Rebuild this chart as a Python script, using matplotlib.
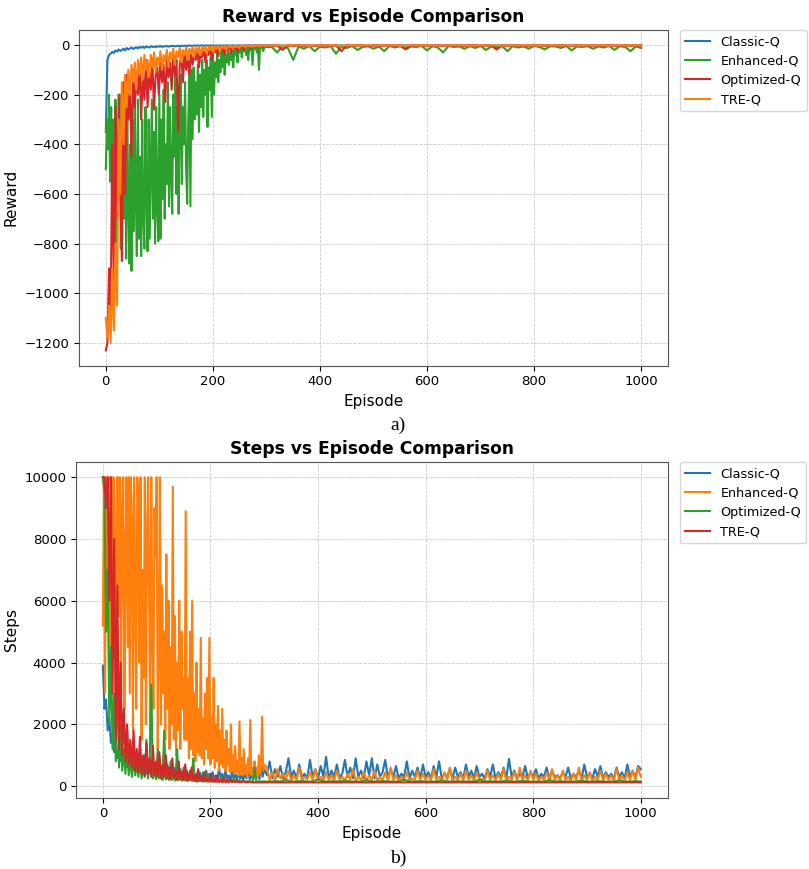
import numpy as np
import matplotlib
matplotlib.use('Agg')
import matplotlib.pyplot as plt

# episode grids: sampled more densely where the curves are noisiest
ep_early = np.arange(0, 301, 3)        # 101 points
ep_late = np.arange(310, 1001, 10)     # 70 points
ep_early_fine = np.arange(0, 301, 2)   # 151 points
ep_late_fine = np.arange(305, 1001, 5) # 140 points

#===============================================================================
# Reward vs Episode
reward_classic = [
    -350, -60, -40, -35, -28, -32, -22, -26, -18, -24,
    -20, -15, -22, -12, -18, -14, -10, -16, -12, -9,
    -14, -8, -11, -7, -12, -6, -9, -10, -5, -8,
    -6, -9, -5, -7, -4, -8, -5, -6, -4, -7,
    -4, -5, -3, -6, -4, -3, -5, -3, -4, -3,
    -3, -4, -2, -3, -4, -2, -3, -2, -3, -2,
    -2, -3, -2, -2, -3, -2, -2, -2, -3, -2,
    -2, -2, -3, -2, -2, -2, -2, -3, -2, -2,
    -2, -2, -2, -2, -3, -2, -2, -2, -2, -2,
    -2, -2, -2, -2, -2, -2, -2, -2, -2, -2,
    -2,
    -2, -2, -3, -2, -2, -2, -2, -3, -2, -2,
    -2, -3, -2, -2, -2, -2, -2, -2, -3, -2,
    -2, -2, -2, -3, -2, -2, -2, -2, -2, -2,
    -3, -2, -2, -2, -2, -2, -3, -2, -2, -2,
    -2, -2, -2, -2, -3, -2, -2, -2, -2, -2,
    -2, -3, -2, -2, -2, -2, -2, -2, -2, -3,
    -2, -2, -2, -2, -2, -3, -2, -2, -2, -2,
]
reward_enhanced = [
    -500, -300, -420, -200, -550, -250, -700, -300, -780, -220,
    -850, -350, -600, -200, -820, -450, -250, -700, -300, -860,
    -250, -650, -880, -400, -910, -300, -750, -200, -600, -850,
    -220, -780, -450, -850, -300, -700, -820, -250, -600, -830,
    -300, -780, -500, -220, -700, -350, -800, -250, -650, -790,
    -200, -780, -300, -620, -180, -700, -400, -560, -150, -650,
    -250, -520, -680, -200, -450, -120, -600, -250, -680, -300,
    -120, -560, -250, -400, -150, -500, -640, -300, -120, -650,
    -100, -380, -90, -300, -150, -280, -80, -350, -120, -250,
    -60, -290, -100, -200, -60, -330, -90, -180, -50, -290,
    -40, -200, -70, -130, -30, -150, -60, -110, -30, -90,
    -20, -120, -40, -70, -15, -80, -30, -60, -10, -90,
    -20, -40, -8, -70, -15, -30, -5, -50, -10, -25,
    -8, -40, -5, -60, -10, -20, -5, -80, -8, -15,
    -5, -30, -6, -100, -8, -12, -4, -25, -6, -10,
    -8,
    -8, -30, -5, -12, -60, -6, -15, -4, -25, -7,
    -10, -5, -35, -6, -12, -4, -20, -8, -5, -15,
    -6, -25, -4, -10, -5, -18, -6, -8, -4, -22,
    -5, -10, -30, -4, -8, -6, -15, -5, -12, -4,
    -20, -6, -8, -4, -25, -5, -10, -6, -15, -4,
    -8, -18, -5, -6, -12, -4, -22, -6, -8, -5,
    -15, -6, -10, -4, -20, -5, -8, -25, -6, -12,
]
reward_optimized = [
    -1230, -1200, -900, -1100, -400, -950, -250, -700, -200, -550,
    -870, -150, -600, -120, -300, -180, -450, -100, -250, -130,
    -200, -80, -300, -120, -220, -60, -250, -100, -180, -70,
    -260, -120, -90, -200, -60, -150, -80, -230, -50, -130,
    -70, -180, -40, -120, -60, -350, -80, -40, -150, -30,
    -100, -50, -120, -25, -80, -40, -60, -20, -90, -30,
    -50, -15, -70, -20, -40, -10, -60, -15, -30, -8,
    -45, -10, -25, -5, -40, -8, -20, -5, -30, -5,
    -15, -3, -25, -4, -10, -3, -20, -3, -8, -2,
    -15, -3, -5, -2, -10, -2, -4, -2, -6, -2,
    -3,
    -3, -2, -20, -2, -3, -2, -4, -2, -3, -2,
    -2, -3, -2, -25, -2, -3, -2, -2, -4, -2,
    -3, -2, -2, -3, -2, -15, -2, -3, -2, -2,
    -2, -3, -2, -2, -4, -2, -3, -2, -2, -3,
    -2, -2, -18, -2, -3, -2, -2, -4, -2, -2,
    -3, -2, -2, -3, -2, -2, -4, -2, -3, -2,
    -2, -3, -2, -2, -3, -2, -2, -3, -2, -2,
]
reward_tre = [
    -1100, -1180, -1050, -1200, -900, -1150, -800, -1050, -300, -600,
    -150, -400, -120, -250, -100, -200, -80, -150, -70, -180,
    -60, -120, -50, -140, -40, -100, -60, -130, -40, -90,
    -30, -110, -50, -80, -25, -100, -40, -70, -20, -90,
    -30, -60, -15, -80, -25, -50, -12, -70, -20, -40,
    -10, -60, -15, -35, -8, -50, -12, -30, -6, -40,
    -10, -25, -5, -35, -8, -20, -4, -30, -6, -15,
    -3, -25, -5, -12, -3, -20, -4, -10, -2, -15,
    -3, -8, -2, -12, -2, -6, -2, -10, -2, -5,
    -2, -8, -2, -4, -2, -6, -2, -3, -2, -4,
    -2,
    -2, -1, -3, -2, -1, -2, -2, -3, -1, -2,
    -2, -1, -2, -3, -2, -1, -2, -2, -1, -3,
    -1, -2, -2, -1, -3, -2, -1, -2, -2, -1,
    -2, -3, -1, -2, -2, -1, -2, -3, -2, -1,
    -2, -1, -2, -2, -3, -1, -2, -2, -1, -2,
    -3, -2, -1, -2, -2, -1, -3, -2, -2, -1,
    -2, -2, -1, -3, -2, -1, -2, -2, -1, -2,
]

#===============================================================================
# Steps vs Episode
steps_classic = [
    3900, 2500, 2800, 1800, 2200, 1400, 1700, 1100, 1500, 900,
    1200, 800, 1100, 700, 1000, 600, 900, 700, 1100, 500,
    800, 600, 900, 450, 750, 500, 1000, 400, 700, 450,
    800, 350, 650, 400, 700, 350, 600, 300, 550, 350,
    700, 300, 500, 250, 600, 300, 450, 250, 550, 300,
    400, 250, 500, 280, 450, 220, 500, 250, 400, 200,
    450, 250, 380, 200, 500, 250, 400, 200, 450, 230,
    350, 200, 600, 250, 400, 200, 500, 220, 350, 200,
    450, 250, 380, 200, 500, 230, 350, 200, 450, 250,
    600, 220, 400, 200, 650, 250, 500, 220, 700, 300,
    550,
    350, 800, 250, 550, 300, 650, 250, 450, 900, 300,
    500, 250, 700, 300, 400, 250, 850, 300, 550, 250,
    650, 300, 950, 250, 500, 300, 700, 250, 400, 850,
    300, 600, 250, 900, 300, 500, 250, 800, 350, 900,
    250, 700, 300, 450, 850, 250, 550, 300, 650, 250,
    400, 300, 800, 250, 500, 300, 600, 250, 700, 300,
    450, 250, 650, 300, 800, 250, 400, 300, 550, 250,
    600, 300, 450, 250, 700, 300, 500, 250, 650, 300,
    400, 250, 550, 300, 700, 250, 450, 300, 600, 250,
    880, 300, 500, 250, 400, 300, 650, 250, 450, 300,
    550, 250, 400, 300, 600, 250, 500, 300, 350, 250,
    450, 300, 600, 250, 400, 300, 500, 250, 700, 300,
    400, 250, 550, 300, 650, 250, 450, 300, 400, 250,
    600, 300, 450, 250, 700, 300, 500, 250, 650, 550,
]
steps_enhanced = [
    5200, 10000, 3000, 10000, 6000, 10000, 10000, 2500, 10000, 4000,
    10000, 8000, 2000, 10000, 10000, 5500, 10000, 3000, 9000, 10000,
    2500, 7500, 10000, 4500, 10000, 3000, 10000, 8500, 1800, 10000,
    6500, 2500, 10000, 9000, 4000, 10000, 1500, 7000, 3500, 10000,
    2000, 8000, 10000, 6000, 1500, 10000, 5000, 2500, 9000, 7500,
    10000, 1200, 4500, 10000, 2000, 6500, 3000, 5000, 1500, 7500,
    2500, 6000, 1200, 4500, 2000, 9700, 1500, 5500, 1000, 4000,
    1800, 6000, 1200, 5000, 2500, 3500, 1500, 8900, 1500, 3500,
    900, 5000, 1200, 6000, 1000, 3000, 800, 4000, 1100, 2500,
    1000, 4800, 900, 2200, 700, 3000, 1200, 3500, 900, 4800,
    700, 2200, 900, 3500, 600, 2000, 800, 2600, 500, 1800,
    700, 2500, 600, 1500, 500, 1800, 700, 1200, 450, 2000,
    500, 1000, 400, 1300, 450, 800, 350, 2100, 400, 900,
    350, 1200, 400, 700, 300, 900, 400, 2140, 350, 600,
    300, 800, 350, 600, 300, 1000, 400, 700, 2250, 500,
    700,
    600, 200, 450, 180, 550, 250, 400, 200, 500, 180,
    350, 200, 600, 180, 300, 220, 450, 180, 550, 200,
    300, 180, 450, 200, 350, 180, 500, 200, 300, 180,
    400, 200, 550, 180, 300, 200, 450, 180, 350, 200,
    500, 180, 300, 200, 450, 180, 600, 200, 350, 180,
    300, 200, 450, 180, 250, 200, 500, 180, 400, 200,
    350, 180, 550, 200, 300, 180, 450, 200, 600, 180,
    300, 200, 400, 180, 500, 200, 350, 180, 450, 200,
    250, 180, 500, 200, 350, 180, 400, 200, 550, 180,
    300, 200, 450, 180, 600, 200, 350, 180, 500, 200,
    400, 180, 300, 200, 450, 180, 550, 200, 350, 180,
    500, 200, 300, 180, 400, 200, 600, 180, 350, 200,
    450, 180, 300, 200, 500, 180, 400, 200, 350, 180,
    550, 200, 350, 180, 450, 200, 500, 180, 600, 300,
]
steps_optimized = [
    10000, 9500, 5000, 7000, 2000, 4500, 1200, 3000, 800, 4400,
    600, 2000, 500, 1200, 400, 1800, 350, 900, 300, 1400,
    350, 700, 300, 1000, 250, 600, 300, 1500, 250, 700,
    3300, 250, 500, 220, 1200, 250, 500, 200, 1800, 220,
    450, 200, 800, 200, 400, 180, 1200, 200, 350, 170,
    600, 180, 300, 160, 500, 170, 900, 160, 300, 150,
    250, 150, 450, 150, 200, 150, 350, 150, 200, 150,
    250, 150, 180, 150, 300, 150, 170, 150, 200, 150,
    150, 250, 150, 150, 180, 150, 150, 200, 150, 150,
    160, 150, 150, 150, 600, 150, 150, 150, 150, 150,
    150,
    150, 160, 150, 200, 150, 150, 170, 150, 150, 220,
    150, 150, 160, 150, 180, 150, 150, 150, 200, 150,
    150, 170, 150, 150, 150, 210, 150, 150, 160, 150,
    150, 150, 190, 150, 150, 160, 150, 150, 150, 200,
    150, 160, 150, 150, 180, 150, 150, 170, 150, 150,
    150, 150, 200, 150, 160, 150, 150, 150, 180, 150,
    150, 160, 150, 150, 150, 190, 150, 150, 160, 150,
]
steps_tre = [
    10000, 10000, 9000, 10000, 6000, 10000, 3000, 8000, 1500, 6500,
    1200, 4000, 1000, 2500, 800, 2000, 700, 1500, 600, 1800,
    500, 1200, 450, 1600, 400, 1000, 350, 1400, 400, 900,
    300, 1300, 350, 800, 300, 1100, 250, 700, 300, 1000,
    250, 600, 220, 900, 250, 500, 200, 800, 220, 450,
    200, 700, 180, 400, 200, 600, 170, 350, 150, 550,
    170, 300, 150, 450, 150, 250, 140, 400, 140, 220,
    130, 350, 130, 200, 120, 300, 120, 180, 120, 250,
    120, 160, 120, 200, 120, 140, 120, 180, 120, 130,
    120, 150, 120, 120, 120, 120, 120, 120, 120, 120,
    120,
    120, 118, 122, 120, 119, 121, 120, 118, 122, 120,
    121, 119, 120, 122, 118, 120, 121, 119, 120, 122,
    120, 118, 121, 120, 119, 122, 120, 118, 121, 120,
    119, 121, 120, 118, 122, 120, 119, 121, 120, 118,
    122, 120, 119, 121, 120, 118, 122, 120, 119, 121,
    120, 118, 122, 120, 119, 121, 120, 118, 122, 120,
    121, 119, 120, 122, 118, 120, 121, 119, 120, 122,
]

labels = ['Classic-Q', 'Enhanced-Q', 'Optimized-Q', 'TRE-Q']
c_blue, c_orange, c_green, c_red = '#1f77b4', '#ff7f0e', '#2ca02c', '#d62728'

coarse = np.concatenate([ep_early, ep_late])
fine_early = np.concatenate([ep_early_fine, ep_late])
fine_late = np.concatenate([ep_early, ep_late_fine])
fine_both = np.concatenate([ep_early_fine, ep_late_fine])

#===============================================================================
def style_axes(ax, title, ylabel):
    ax.set_title(title, fontsize=12.3, fontweight='bold')
    ax.set_xlabel('Episode', fontsize=11)
    ax.set_ylabel(ylabel, fontsize=11)
    ax.tick_params(labelsize=9.5)
    ax.grid(True, linestyle='--', linewidth=0.6, color='#cccccc')
    for sp in ax.spines.values():
        sp.set_color('#555555')
    ax.legend(loc='upper left', bbox_to_anchor=(1.02, 1), borderaxespad=0,
              fontsize=9.2)

fig = plt.figure(figsize=(8.09, 8.69), dpi=100)
ax1 = fig.add_axes([0.0977, 0.5792, 0.728, 0.3863])
ax2 = fig.add_axes([0.0939, 0.0820, 0.7314, 0.3864])

ax1.plot(coarse, reward_classic, color=c_blue, lw=1.5, label=labels[0])
ax1.plot(fine_early, reward_enhanced, color=c_green, lw=1.5, label=labels[1])
ax1.plot(coarse, reward_optimized, color=c_red, lw=1.5, label=labels[2])
ax1.plot(coarse, reward_tre, color=c_orange, lw=1.5, label=labels[3])
style_axes(ax1, 'Reward vs Episode Comparison', 'Reward')

ax2.plot(fine_late, steps_classic, color=c_blue, lw=1.5, label=labels[0])
ax2.plot(fine_both, steps_enhanced, color=c_orange, lw=1.5, label=labels[1])
ax2.plot(coarse, steps_optimized, color=c_green, lw=1.5, label=labels[2])
ax2.plot(coarse, steps_tre, color=c_red, lw=1.5, label=labels[3])
style_axes(ax2, 'Steps vs Episode Comparison', 'Steps')

fig.text(0.492, 1 - 425/869, 'a)', ha='center', va='center',
         family='Liberation Serif', fontsize=14)
fig.text(0.492, 1 - 858/869, 'b)', ha='center', va='center',
         family='Liberation Serif', fontsize=14)

fig.savefig('out.png', dpi=100)
